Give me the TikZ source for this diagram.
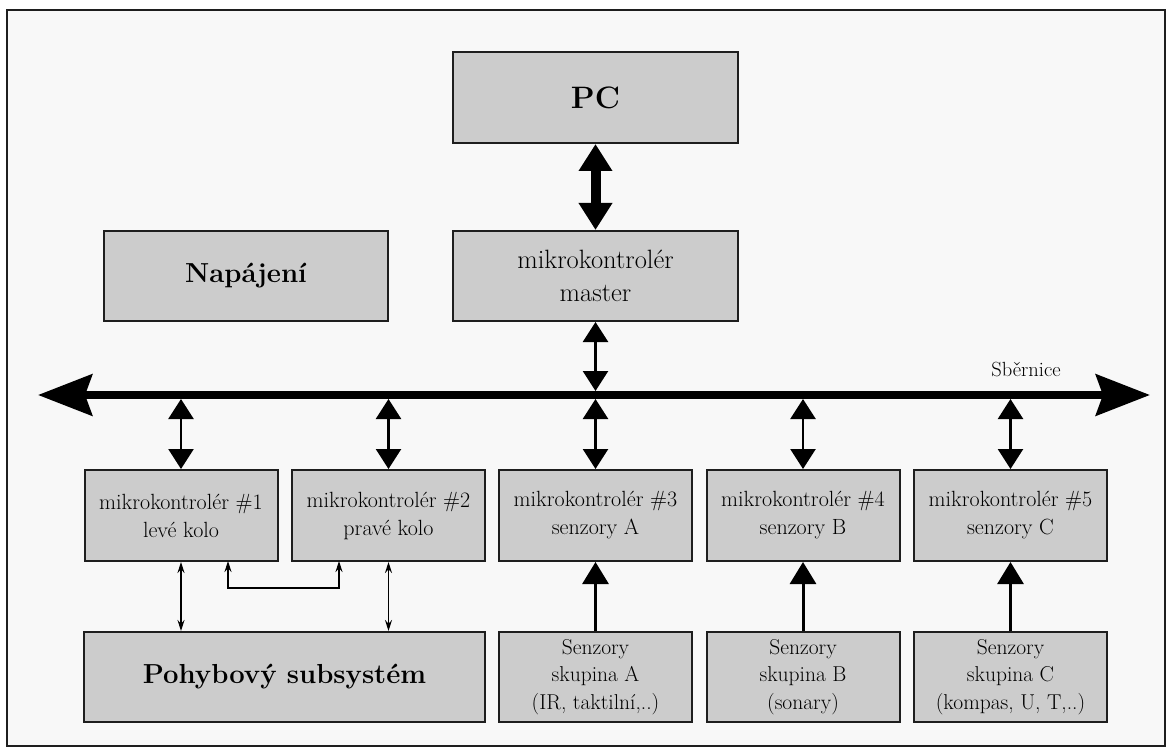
\documentclass[tikz,border=0pt]{standalone}
\usepackage{fontspec}
\usetikzlibrary{arrows.meta}
\definecolor{boxfill}{RGB}{204,204,204}
\definecolor{bgfill}{RGB}{248,248,248}
\definecolor{edge}{RGB}{30,30,30}
\tikzset{
  blk/.style={draw=edge, line width=2pt, fill=boxfill, inner sep=0pt, align=center, anchor=center},
  mcbox/.style={blk, minimum width=193pt, minimum height=91pt, font=\fontsize{22}{28}\selectfont},
  senbox/.style={blk, minimum width=193pt, minimum height=90pt, font=\fontsize{21.5}{27.5}\selectfont},
  bigbold/.style={font=\fontsize{27.5}{34}\selectfont\bfseries},
  buslink/.style={line width=2.5pt, {Triangle[length=20pt,width=25pt]}-{Triangle[length=20pt,width=25pt]}},
  senlink/.style={line width=3pt, -{Triangle[length=22pt,width=26pt]}},
  thinlink/.style={line width=1.2pt, {Stealth[length=11pt,width=7pt]}-{Stealth[length=11pt,width=7pt]}}
}
\begin{document}
\begin{tikzpicture}[x=1pt,y=-1pt]
\useasboundingbox (0,0) rectangle (1172,754);
\fill[white] (0,0) rectangle (1172,754);
\draw[line width=2pt, fill=bgfill, draw=edge] (7,10) rectangle (1165,746);

% top
\node[blk, minimum width=285pt, minimum height=91pt, font=\fontsize{31}{38}\selectfont\bfseries] (pc) at (595.5,97.5) {PC};
\node[blk, minimum width=285pt, minimum height=90pt, font=\fontsize{26.5}{33}\selectfont] (master) at (595.5,276) {mikrokontrolér\\master};
\node[blk, bigbold, minimum width=284pt, minimum height=90pt] (nap) at (246,276) {Napájení};

% controllers
\node[mcbox] (mc1) at (181,515.5) {mikrokontrolér \#1\\levé kolo};
\node[mcbox] (mc2) at (388.5,515.5) {mikrokontrolér \#2\\pravé kolo};
\node[mcbox] (mc3) at (595.5,515.5) {mikrokontrolér \#3\\senzory A};
\node[mcbox] (mc4) at (803,515.5) {mikrokontrolér \#4\\senzory B};
\node[mcbox] (mc5) at (1010.5,515.5) {mikrokontrolér \#5\\senzory C};

% bottom
\node[blk, bigbold, minimum width=401pt, minimum height=90pt] (poh) at (284.5,677) {Pohybový subsystém};
\node[senbox] (sa) at (595.5,677) {Senzory\\skupina A\\(IR, taktilní,..)};
\node[senbox] (sb) at (803,677) {Senzory\\skupina B\\(sonary)};
\node[senbox] (sc) at (1010.5,677) {Senzory\\skupina C\\(kompas, U, T,..)};

% bus
\coordinate (busL) at (38,395);
\coordinate (busR) at (1150,395);
\draw[line width=8pt, {Stealth[length=54pt,width=41pt,inset=7pt]}-{Stealth[length=54pt,width=41pt,inset=7pt]}] (busL) -- (busR);
\node[font=\fontsize{20.5}{24}\selectfont, anchor=center] (busl) at (1026,369) {Sběrnice};

% bus junction coordinates
\coordinate (btm) at (595.5,391);
\coordinate (bb1) at (181,399);
\coordinate (bb2) at (388.5,399);
\coordinate (bb3) at (595.5,399);
\coordinate (bb4) at (803,399);
\coordinate (bb5) at (1010.5,399);

% PC - master
\draw[line width=10pt, {Triangle[length=27pt,width=32pt]}-{Triangle[length=27pt,width=32pt]}] (pc.south) -- (master.north);
% master - bus
\draw[buslink] (master.south) -- (btm);
% bus - controllers
\draw[buslink] (bb1) -- (mc1.north);
\draw[buslink] (bb2) -- (mc2.north);
\draw[buslink] (bb3) -- (mc3.north);
\draw[buslink] (bb4) -- (mc4.north);
\draw[buslink] (bb5) -- (mc5.north);

% sensors
\draw[senlink] (sa.north) -- (mc3.south);
\draw[senlink] (sb.north) -- (mc4.south);
\draw[senlink] (sc.north) -- (mc5.south);

% motion subsystem
\draw[thinlink] (mc1.south) -- (mc1.south |- poh.north);
\draw[thinlink] (mc2.south) -- (mc2.south |- poh.north);
\coordinate (k1) at (228,561);
\coordinate (k2) at (339,561);
\draw[thinlink] (k1) -- (228,588) -- (339,588) -- (k2);
\end{tikzpicture}
\end{document}
